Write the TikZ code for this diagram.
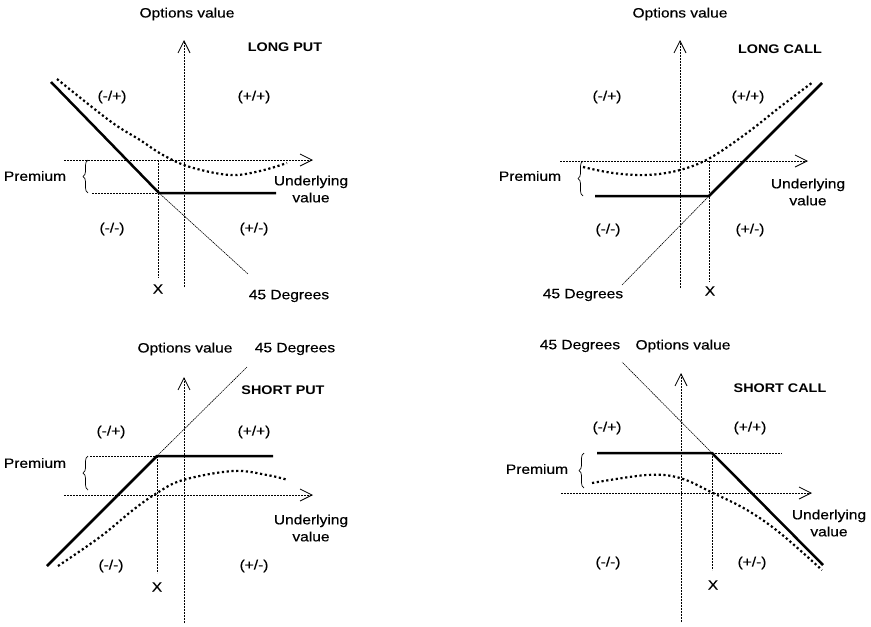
\documentclass[tikz,border=0pt]{standalone}
\usepackage{fontspec}
\setmainfont{Liberation Sans}[FakeStretch=1.15, UprightFeatures={FakeBold=0.35}]
\usetikzlibrary{arrows.meta,decorations.pathreplacing}
\begin{document}
\begin{tikzpicture}[x=1pt,y=-1pt,
  font=\fontsize{13.5}{17}\selectfont,
  lbl/.style={inner sep=0pt, align=center},
  ttl/.style={inner sep=0pt, font=\bfseries\fontsize{12.5}{15}\selectfont},
  axisline/.style={line width=0.8pt, dash pattern=on 2pt off 1pt,
    -{Straight Barb[length=12pt,width=12pt,line width=0.8pt]}},
  guide/.style={line width=0.7pt, dash pattern=on 2pt off 1pt},
  payoff/.style={line width=2.5pt, line join=miter},
  degline/.style={line width=0.6pt, dash pattern=on 1.5pt off 0.7pt},
  valuecurve/.style={line width=2.2pt, dash pattern=on 2.2pt off 2.6pt},
  prembrace/.style={decorate, decoration={brace, amplitude=5pt}, line width=0.7pt}]
\useasboundingbox (0,0) rectangle (871,627);

% ================= LONG PUT =================
\coordinate (a1v0) at (184,287); \coordinate (a1v1) at (184,40);
\coordinate (a1h0) at (64,160);  \coordinate (a1h1) at (313,160);
\coordinate (a1s) at (51,82); \coordinate (a1k) at (159,193); \coordinate (a1e) at (276,193);
\coordinate (a1d) at (248,274);
\coordinate (a1xt) at (158,160); \coordinate (a1xb) at (158,278);
\coordinate (a1p0) at (92,193);
\coordinate (a1b0) at (88,193); \coordinate (a1b1) at (88,160);
\draw[axisline] (a1v0) -- (a1v1);
\draw[axisline] (a1h0) -- (a1h1);
\draw[guide] (a1xt) -- (a1xb);
\draw[guide] (a1p0) -- (a1k);
\draw[degline] (a1k) -- (a1d);
\draw[payoff] (a1s) -- (a1k) -- (a1e);
\draw[valuecurve] plot[smooth, tension=0.6] coordinates {(57,79) (110,121) (140,140) (163,155) (190,167) (230,175) (260,171) (287,163)};
\draw[prembrace] (a1b0) -- (a1b1);
\node[lbl] (a1ov) at (187,14) {Options value};
\node[ttl] (a1t) at (285,47) {LONG PUT};
\node[lbl] (a1q1) at (112,97) {(-/+)};
\node[lbl] (a1q2) at (254,97) {(+/+)};
\node[lbl] (a1q3) at (112,229) {(-/-)};
\node[lbl] (a1q4) at (254,229) {(+/-)};
\node[lbl] (a1pr) at (35,176) {Premium};
\node[lbl] (a1uv) at (311,189) {Underlying\\value};
\node[lbl] (a1x) at (158,289) {X};
\node[lbl] (a1dg) at (289,296) {45 Degrees};

% ================= LONG CALL =================
\coordinate (a2v0) at (680,288); \coordinate (a2v1) at (680,40);
\coordinate (a2h0) at (560,161); \coordinate (a2h1) at (808,161);
\coordinate (a2s) at (595,196); \coordinate (a2k) at (709,196); \coordinate (a2e) at (822,83);
\coordinate (a2d) at (622,285);
\coordinate (a2xt) at (709,161); \coordinate (a2xb) at (709,282);
\coordinate (a2b0) at (583,196); \coordinate (a2b1) at (583,161);
\draw[axisline] (a2v0) -- (a2v1);
\draw[axisline] (a2h0) -- (a2h1);
\draw[guide] (a2xt) -- (a2xb);
\draw[degline] (a2k) -- (a2d);
\draw[payoff] (a2s) -- (a2k) -- (a2e);
\draw[valuecurve] plot[smooth, tension=0.6] coordinates {(583,167) (613,173) (647,175) (680,170) (710,158) (747,133) (780,107) (813,82)};
\draw[prembrace] (a2b0) -- (a2b1);
\node[lbl] (a2ov) at (680,14) {Options value};
\node[ttl] (a2t) at (780,49) {LONG CALL};
\node[lbl] (a2q1) at (607,97) {(-/+)};
\node[lbl] (a2q2) at (748,97) {(+/+)};
\node[lbl] (a2q3) at (608,230) {(-/-)};
\node[lbl] (a2q4) at (750,230) {(+/-)};
\node[lbl] (a2pr) at (530,176) {Premium};
\node[lbl] (a2uv) at (808,192) {Underlying\\value};
\node[lbl] (a2x) at (710,291) {X};
\node[lbl] (a2dg) at (583,295) {45 Degrees};

% ================= SHORT PUT =================
\coordinate (a3v0) at (184,623); \coordinate (a3v1) at (184,377);
\coordinate (a3h0) at (64,495);  \coordinate (a3h1) at (313,495);
\coordinate (a3s) at (47,566); \coordinate (a3k) at (157,456); \coordinate (a3e) at (273,456);
\coordinate (a3d) at (247,367);
\coordinate (a3xt) at (157,456); \coordinate (a3xb) at (157,573);
\coordinate (a3p0) at (90,456);
\coordinate (a3b0) at (88,490); \coordinate (a3b1) at (88,456);
\draw[axisline] (a3v0) -- (a3v1);
\draw[axisline] (a3h0) -- (a3h1);
\draw[guide] (a3xt) -- (a3xb);
\draw[guide] (a3p0) -- (a3k);
\draw[degline] (a3k) -- (a3d);
\draw[payoff] (a3s) -- (a3k) -- (a3e);
\draw[valuecurve] plot[smooth, tension=0.6] coordinates {(58,566) (100,537) (133,510) (157,493) (183,480) (233,471) (267,475) (288,480)};
\draw[prembrace] (a3b0) -- (a3b1);
\node[lbl] (a3ov) at (185,349) {Options value};
\node[lbl] (a3dg) at (295,349) {45 Degrees};
\node[ttl] (a3t) at (283,390) {SHORT PUT};
\node[lbl] (a3q1) at (111,432) {(-/+)};
\node[lbl] (a3q2) at (254,432) {(+/+)};
\node[lbl] (a3q3) at (111,566) {(-/-)};
\node[lbl] (a3q4) at (254,566) {(+/-)};
\node[lbl] (a3pr) at (35,463) {Premium};
\node[lbl] (a3uv) at (311,528) {Underlying\\value};
\node[lbl] (a3x) at (157,587) {X};

% ================= SHORT CALL =================
\coordinate (a4v0) at (681,622); \coordinate (a4v1) at (681,373);
\coordinate (a4h0) at (561,493); \coordinate (a4h1) at (812,493);
\coordinate (a4s) at (597,453); \coordinate (a4k) at (712,453); \coordinate (a4e) at (823,565);
\coordinate (a4d) at (622,362);
\coordinate (a4xb) at (712,570);
\coordinate (a4p1) at (782,453);
\coordinate (a4b0) at (584,488); \coordinate (a4b1) at (584,453);
\draw[axisline] (a4v0) -- (a4v1);
\draw[axisline] (a4h0) -- (a4h1);
\draw[guide] (a4k) -- (a4xb);
\draw[guide] (a4k) -- (a4p1);
\draw[degline] (a4k) -- (a4d);
\draw[payoff] (a4s) -- (a4k) -- (a4e);
\draw[valuecurve] plot[smooth, tension=0.6] coordinates {(592,483) (647,475) (680,478) (713,493) (747,510) (780,533) (822,570)};
\draw[prembrace] (a4b0) -- (a4b1);
\node[lbl] (a4dg) at (580,346) {45 Degrees};
\node[lbl] (a4ov) at (683,346) {Options value};
\node[ttl] (a4t) at (780,388) {SHORT CALL};
\node[lbl] (a4q1) at (607,428) {(-/+)};
\node[lbl] (a4q2) at (750,428) {(+/+)};
\node[lbl] (a4q3) at (608,563) {(-/-)};
\node[lbl] (a4q4) at (752,563) {(+/-)};
\node[lbl] (a4pr) at (537,469) {Premium};
\node[lbl] (a4uv) at (829,523) {Underlying\\value};
\node[lbl] (a4x) at (713,585) {X};
\end{tikzpicture}
\end{document}
